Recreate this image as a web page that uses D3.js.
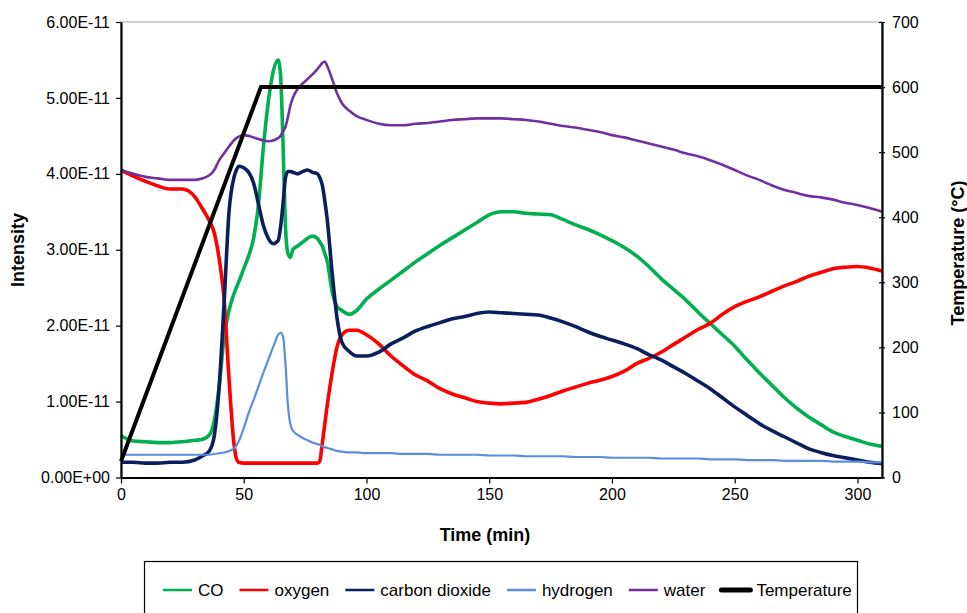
<!DOCTYPE html>
<html>
<head>
<meta charset="utf-8">
<script src="https://cdn.jsdelivr.net/npm/d3@7"></script>
<style>
    body { margin: 0; background: #fff; }
    svg text { font-family: "Liberation Sans", Arial, sans-serif; fill: #000; }
</style>
</head>
<body>
<svg id="CANVAS" width="967" height="613"></svg>
<script>
// time (min) shared by the gas series
var times = [0, 5, 10, 15, 20, 25, 30, 33, 36, 38, 40, 42, 44, 46, 47, 48,
    50, 52, 54, 56, 58, 60, 62, 64, 65, 66, 67, 68, 69, 70,
    72, 74, 76, 78, 80, 81, 82, 83, 84, 86, 88, 90, 93, 96, 100,
    105, 110, 115, 120, 125, 130, 135, 140, 145, 150, 155, 160, 165, 170, 175,
    180, 185, 190, 195, 200, 205, 210, 215, 220, 225, 230, 235, 240, 245, 250,
    255, 260, 265, 270, 275, 280, 285, 290, 295, 300, 305, 310];

// intensities, in units of 1E-11
var co = [0.55, 0.48, 0.47, 0.46, 0.46, 0.47, 0.49, 0.50, 0.56, 0.75, 1.20, 1.85, 2.20, 2.42, 2.50, 2.58,
    2.75, 2.92, 3.15, 3.60, 4.35, 4.95, 5.35, 5.50, 5.30, 4.40, 3.30, 2.95, 2.90, 3.00,
    3.05, 3.10, 3.15, 3.18, 3.15, 3.10, 3.05, 2.95, 2.85, 2.45, 2.25, 2.20, 2.15, 2.20, 2.35,
    2.48, 2.60, 2.72, 2.84, 2.95, 3.06, 3.16, 3.26, 3.36, 3.46, 3.50, 3.50, 3.48, 3.47, 3.46,
    3.40, 3.33, 3.27, 3.20, 3.12, 3.03, 2.92, 2.78, 2.62, 2.48, 2.34, 2.18, 2.03, 1.88, 1.73,
    1.55, 1.38, 1.22, 1.06, 0.92, 0.80, 0.70, 0.60, 0.54, 0.49, 0.44, 0.41];

var oxygen = [4.05, 3.97, 3.90, 3.84, 3.80, 3.80, 3.70, 3.55, 3.38, 3.22, 2.88, 2.35, 1.30, 0.45, 0.25, 0.20,
    0.19, 0.19, 0.19, 0.19, 0.19, 0.19, 0.19, 0.19, 0.19, 0.19, 0.19, 0.19, 0.19, 0.19,
    0.19, 0.19, 0.19, 0.19, 0.19, 0.22, 0.45, 0.70, 0.95, 1.38, 1.72, 1.88, 1.94, 1.94, 1.88,
    1.76, 1.60, 1.47, 1.35, 1.27, 1.17, 1.10, 1.05, 1.00, 0.98, 0.97, 0.98, 0.99, 1.03, 1.08,
    1.14, 1.19, 1.24, 1.28, 1.33, 1.40, 1.50, 1.57, 1.65, 1.75, 1.85, 1.95, 2.03, 2.15, 2.25,
    2.32, 2.38, 2.45, 2.52, 2.58, 2.65, 2.70, 2.75, 2.77, 2.78, 2.76, 2.72];

var carbonDioxide = [0.20, 0.20, 0.19, 0.19, 0.20, 0.20, 0.23, 0.28, 0.35, 0.55, 1.20, 2.30, 3.50, 3.95, 4.05, 4.10,
    4.08, 4.02, 3.88, 3.60, 3.32, 3.15, 3.08, 3.12, 3.30, 3.60, 3.95, 4.03, 4.03, 4.02,
    4.00, 4.03, 4.05, 4.02, 4.00, 3.95, 3.85, 3.65, 3.40, 2.70, 2.10, 1.78, 1.66, 1.60, 1.60,
    1.65, 1.76, 1.84, 1.93, 1.99, 2.04, 2.09, 2.12, 2.16, 2.18, 2.17, 2.16, 2.15, 2.14, 2.10,
    2.05, 1.99, 1.92, 1.86, 1.81, 1.76, 1.70, 1.62, 1.55, 1.46, 1.37, 1.27, 1.17, 1.05, 0.93,
    0.82, 0.71, 0.62, 0.54, 0.46, 0.38, 0.33, 0.29, 0.26, 0.23, 0.20, 0.18];

var hydrogen = [0.30, 0.30, 0.30, 0.30, 0.30, 0.30, 0.30, 0.30, 0.30, 0.31, 0.32, 0.33, 0.35, 0.38, 0.42, 0.48,
    0.65, 0.85, 1.02, 1.20, 1.38, 1.55, 1.72, 1.88, 1.91, 1.86, 1.50, 0.95, 0.70, 0.62,
    0.56, 0.52, 0.49, 0.46, 0.44, 0.43, 0.41, 0.40, 0.39, 0.37, 0.35, 0.34, 0.33, 0.33, 0.32,
    0.32, 0.32, 0.31, 0.31, 0.31, 0.30, 0.30, 0.30, 0.30, 0.29, 0.29, 0.29, 0.28, 0.28, 0.28,
    0.28, 0.27, 0.27, 0.27, 0.26, 0.26, 0.26, 0.26, 0.25, 0.25, 0.25, 0.25, 0.24, 0.24, 0.24,
    0.23, 0.23, 0.23, 0.22, 0.22, 0.22, 0.22, 0.21, 0.21, 0.21, 0.20, 0.20];

var water = [4.05, 4.00, 3.96, 3.94, 3.92, 3.92, 3.92, 3.94, 3.98, 4.05, 4.18, 4.27, 4.36, 4.44, 4.47, 4.49,
    4.51, 4.50, 4.48, 4.46, 4.44, 4.43, 4.44, 4.47, 4.50, 4.56, 4.62, 4.75, 4.90, 5.00,
    5.12, 5.19, 5.25, 5.31, 5.38, 5.42, 5.46, 5.48, 5.42, 5.25, 5.06, 4.93, 4.83, 4.76, 4.71,
    4.66, 4.64, 4.64, 4.66, 4.67, 4.69, 4.71, 4.72, 4.73, 4.73, 4.73, 4.72, 4.71, 4.69, 4.66,
    4.63, 4.61, 4.58, 4.55, 4.51, 4.48, 4.44, 4.40, 4.36, 4.32, 4.27, 4.23, 4.18, 4.12, 4.05,
    3.98, 3.92, 3.85, 3.79, 3.75, 3.71, 3.69, 3.66, 3.62, 3.59, 3.55, 3.50];

// furnace temperature (°C)
var tempTimes = [0, 57, 310];
var temperature = [25, 600, 600];

var xTicks = [0, 50, 100, 150, 200, 250, 300];
var yTicks = [0, 1, 2, 3, 4, 5, 6];
var yTickLabels = ["0.00E+00", "1.00E-11", "2.00E-11", "3.00E-11", "4.00E-11", "5.00E-11", "6.00E-11"];
var tTicks = [0, 100, 200, 300, 400, 500, 600, 700];

var seriesNames = ["CO", "oxygen", "carbon dioxide", "hydrogen", "water", "Temperature"];
var seriesColors = ["#00B050", "#FF0000", "#0B1F5E", "#5B8FDB", "#7030A0", "#000000"];
var seriesData = [co, oxygen, carbonDioxide, hydrogen, water];

var X0 = 121, X1 = 882, Y0 = 22, Y1 = 477.5;

var svg = d3.select("#CANVAS");

var x = d3.scaleLinear().domain([0, 310]).range([X0, X1]);
var y = d3.scaleLinear().domain([0, 6]).range([Y1, Y0]);
var yT = d3.scaleLinear().domain([0, 700]).range([Y1, Y0]);

// plot area border (only the top shows)
svg.append("rect")
    .attr("x", X0).attr("y", Y0)
    .attr("width", X1 - X0).attr("height", Y1 - Y0)
    .attr("fill", "none").attr("stroke", "#a6a6a6").attr("stroke-width", 1);

// noisy signals get a wider stroke
var widths = [3.6, 3.6, 3.6, 2.2, 2.6];
var line = d3.line().curve(d3.curveMonotoneX);

seriesData.forEach(function (vals, k) {
    var pts = times.map(function (t, i) { return [x(t), y(vals[i])]; });
    svg.append("path")
        .attr("d", line(pts))
        .attr("fill", "none")
        .attr("stroke", seriesColors[k])
        .attr("stroke-width", widths[k])
        .attr("stroke-linejoin", "round");
});

var tLine = d3.line()
    .x(function (d, i) { return x(tempTimes[i]); })
    .y(function (d) { return yT(d); });
svg.append("path")
    .attr("d", tLine(temperature))
    .attr("fill", "none")
    .attr("stroke", "#000")
    .attr("stroke-width", 4);

// axes
var fs = "16px";

var gx = svg.append("g").attr("transform", "translate(0," + Y1 + ")")
    .call(d3.axisBottom(x).tickValues(xTicks).tickSize(6).tickSizeOuter(0).tickPadding(5));
var gy = svg.append("g").attr("transform", "translate(" + X0 + ",0)")
    .call(d3.axisLeft(y).tickValues(yTicks).tickSize(5).tickSizeOuter(0).tickPadding(6)
        .tickFormat(function (d, i) { return yTickLabels[i]; }));
var gt = svg.append("g").attr("transform", "translate(" + X1 + ",0)")
    .call(d3.axisRight(yT).tickValues(tTicks).tickSize(3).tickSizeOuter(0).tickPadding(7));
gt.selectAll(".tick line").attr("x1", -3);

[gx, gy, gt].forEach(function (g) {
    g.select(".domain").attr("stroke", "#000").attr("stroke-width", 2.2);
    g.selectAll(".tick line").attr("stroke", "#000").attr("stroke-width", 1.2);
    g.selectAll(".tick text")
        .attr("font-family", "Liberation Sans, Arial, sans-serif")
        .attr("font-size", fs).attr("fill", "#000");
});

// axis titles
svg.append("text")
    .attr("x", 485).attr("y", 541)
    .attr("text-anchor", "middle")
    .attr("font-size", "18px").attr("font-weight", "bold")
    .text("Time (min)");
svg.append("text")
    .attr("transform", "translate(24,250) rotate(-90)")
    .attr("text-anchor", "middle")
    .attr("font-size", "18px").attr("font-weight", "bold")
    .text("Intensity");
svg.append("text")
    .attr("transform", "translate(964,253) rotate(-90)")
    .attr("text-anchor", "middle")
    .attr("font-size", "18px").attr("font-weight", "bold")
    .text("Temperature (°C)");

// legend
svg.append("rect")
    .attr("x", 144.5).attr("y", 561.5)
    .attr("width", 713).attr("height", 70)
    .attr("fill", "none").attr("stroke", "#000").attr("stroke-width", 1.2);

var lx = 163;
seriesNames.forEach(function (name, k) {
    svg.append("line")
        .attr("x1", lx).attr("x2", lx + 29)
        .attr("y1", 590).attr("y2", 590)
        .attr("stroke", seriesColors[k])
        .attr("stroke-width", k == 5 ? 5 : 2.5)
        .attr("stroke-linecap", k == 5 ? "round" : "butt");
    var t = svg.append("text")
        .attr("x", lx + 35).attr("y", 596)
        .attr("font-size", "17px")
        .text(name);
    lx += 35 + t.node().getComputedTextLength() + 16;
});
</script>
</body>
</html>
